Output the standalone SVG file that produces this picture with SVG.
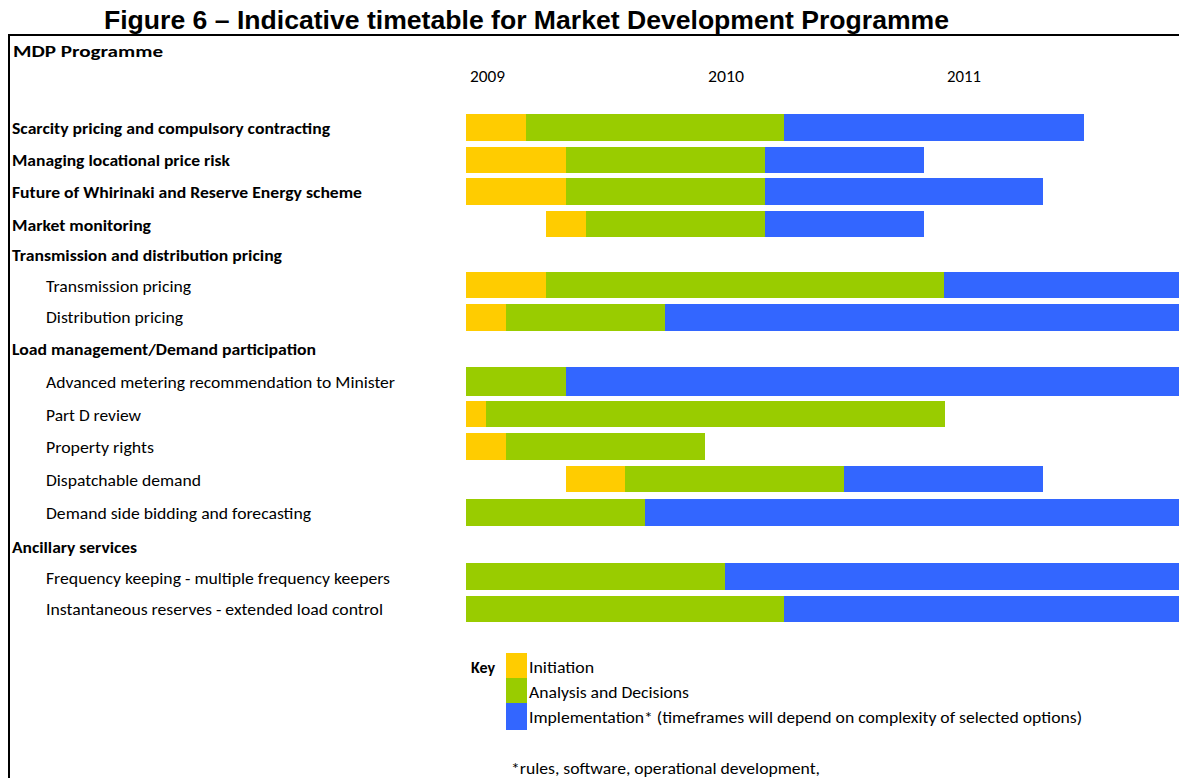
<svg xmlns="http://www.w3.org/2000/svg" width="1179" height="778" viewBox="0 0 1179 778">
  <style>
    .ini { fill: #FFCC00; }
    .ana { fill: #99CC00; }
    .imp { fill: #3366FF; }
    .title { font-family: "Liberation Sans", Arial, sans-serif; font-weight: bold; font-size: 25px; fill: #000; }
    .hd { font-family: Carlito, Calibri, Lato, "Liberation Sans", sans-serif; font-weight: bold; font-size: 16px; fill: #000; }
    .it { font-family: Carlito, Calibri, Lato, "Liberation Sans", sans-serif; font-size: 16px; fill: #000; }
    .yr { font-family: Carlito, Calibri, Lato, "Liberation Sans", sans-serif; font-size: 16px; fill: #000; }
    .frame { fill: none; stroke: #000; stroke-width: 2; }
  </style>

  <!-- heading -->
  <text class="title" x="104" y="29" textLength="845" lengthAdjust="spacingAndGlyphs">Figure 6 – Indicative timetable for Market Development Programme</text>

  <!-- chart frame (top and left edges) -->
  <path class="frame" d="M9,778 V35 H1179"/>

  <g id="header">
    <text class="hd" x="13" y="57" font-size="18" textLength="150" lengthAdjust="spacingAndGlyphs">MDP Programme</text>
    <text class="yr" x="470" y="82" textLength="35" lengthAdjust="spacingAndGlyphs">2009</text>
    <text class="yr" x="708" y="82" textLength="36" lengthAdjust="spacingAndGlyphs">2010</text>
    <text class="yr" x="947" y="82" textLength="34" lengthAdjust="spacingAndGlyphs">2011</text>
  </g>

  <g id="scarcity">
    <text class="hd" x="12" y="134" textLength="318" lengthAdjust="spacingAndGlyphs">Scarcity pricing and compulsory contracting</text>
    <rect class="ini" x="466" y="114" width="60" height="27"/>
    <rect class="ana" x="526" y="114" width="258" height="27"/>
    <rect class="imp" x="784" y="114" width="300" height="27"/>
  </g>

  <g id="locational-risk">
    <text class="hd" x="12" y="166" textLength="218" lengthAdjust="spacingAndGlyphs">Managing locational price risk</text>
    <rect class="ini" x="466" y="147" width="100" height="26"/>
    <rect class="ana" x="566" y="147" width="199" height="26"/>
    <rect class="imp" x="765" y="147" width="159" height="26"/>
  </g>

  <g id="whirinaki">
    <text class="hd" x="12" y="198" textLength="350" lengthAdjust="spacingAndGlyphs">Future of Whirinaki and Reserve Energy scheme</text>
    <rect class="ini" x="466" y="178" width="100" height="27"/>
    <rect class="ana" x="566" y="178" width="199" height="27"/>
    <rect class="imp" x="765" y="178" width="278" height="27"/>
  </g>

  <g id="market-monitoring">
    <text class="hd" x="12" y="231" textLength="139" lengthAdjust="spacingAndGlyphs">Market monitoring</text>
    <rect class="ini" x="546" y="211" width="40" height="26"/>
    <rect class="ana" x="586" y="211" width="179" height="26"/>
    <rect class="imp" x="765" y="211" width="159" height="26"/>
  </g>

  <g id="tx-dist-pricing">
    <text class="hd" x="12" y="261" textLength="270" lengthAdjust="spacingAndGlyphs">Transmission and distribution pricing</text>
  </g>

  <g id="transmission-pricing">
    <text class="it" x="46" y="292" textLength="145" lengthAdjust="spacingAndGlyphs">Transmission pricing</text>
    <rect class="ini" x="466" y="272" width="80" height="26"/>
    <rect class="ana" x="546" y="272" width="398" height="26"/>
    <rect class="imp" x="944" y="272" width="235" height="26"/>
  </g>

  <g id="distribution-pricing">
    <text class="it" x="46" y="323" textLength="137" lengthAdjust="spacingAndGlyphs">Distribution pricing</text>
    <rect class="ini" x="466" y="304" width="40" height="27"/>
    <rect class="ana" x="506" y="304" width="159" height="27"/>
    <rect class="imp" x="665" y="304" width="514" height="27"/>
  </g>

  <g id="load-management">
    <text class="hd" x="12" y="355" textLength="304" lengthAdjust="spacingAndGlyphs">Load management/Demand participation</text>
  </g>

  <g id="advanced-metering">
    <text class="it" x="46" y="388" textLength="349" lengthAdjust="spacingAndGlyphs">Advanced metering recommendation to Minister</text>
    <rect class="ana" x="466" y="367" width="100" height="29"/>
    <rect class="imp" x="566" y="367" width="613" height="29"/>
  </g>

  <g id="part-d">
    <text class="it" x="46" y="421" textLength="95" lengthAdjust="spacingAndGlyphs">Part D review</text>
    <rect class="ini" x="466" y="401" width="20" height="26"/>
    <rect class="ana" x="486" y="401" width="459" height="26"/>
  </g>

  <g id="property-rights">
    <text class="it" x="46" y="453" textLength="108" lengthAdjust="spacingAndGlyphs">Property rights</text>
    <rect class="ini" x="466" y="433" width="40" height="27"/>
    <rect class="ana" x="506" y="433" width="199" height="27"/>
  </g>

  <g id="dispatchable-demand">
    <text class="it" x="46" y="486" textLength="155" lengthAdjust="spacingAndGlyphs">Dispatchable demand</text>
    <rect class="ini" x="566" y="466" width="59" height="26"/>
    <rect class="ana" x="625" y="466" width="219" height="26"/>
    <rect class="imp" x="844" y="466" width="199" height="26"/>
  </g>

  <g id="demand-side-bidding">
    <text class="it" x="46" y="519" textLength="265" lengthAdjust="spacingAndGlyphs">Demand side bidding and forecasting</text>
    <rect class="ana" x="466" y="499" width="179" height="27"/>
    <rect class="imp" x="645" y="499" width="534" height="27"/>
  </g>

  <g id="ancillary-services">
    <text class="hd" x="12" y="553" textLength="125" lengthAdjust="spacingAndGlyphs">Ancillary services</text>
  </g>

  <g id="frequency-keeping">
    <text class="it" x="46" y="584" textLength="344" lengthAdjust="spacingAndGlyphs">Frequency keeping - multiple frequency keepers</text>
    <rect class="ana" x="466" y="563" width="259" height="27"/>
    <rect class="imp" x="725" y="563" width="454" height="27"/>
  </g>

  <g id="instantaneous-reserves">
    <text class="it" x="46" y="615" textLength="337" lengthAdjust="spacingAndGlyphs">Instantaneous reserves - extended load control</text>
    <rect class="ana" x="466" y="596" width="318" height="26"/>
    <rect class="imp" x="784" y="596" width="395" height="26"/>
  </g>

  <g id="key">
    <text class="hd" x="471" y="673" textLength="24" lengthAdjust="spacingAndGlyphs">Key</text>
    <rect class="ini" x="506" y="653" width="21" height="25"/>
    <rect class="ana" x="506" y="678" width="21" height="25"/>
    <rect class="imp" x="506" y="703" width="21" height="27"/>
    <text class="it" x="529" y="673" textLength="65" lengthAdjust="spacingAndGlyphs">Initiation</text>
    <text class="it" x="529" y="698" textLength="160" lengthAdjust="spacingAndGlyphs">Analysis and Decisions</text>
    <text class="it" x="529" y="723" textLength="553" lengthAdjust="spacingAndGlyphs">Implementation* (timeframes will depend on complexity of selected options)</text>
    <text class="it" x="511" y="774" textLength="309" lengthAdjust="spacingAndGlyphs">*rules, software, operational development,</text>
  </g>
</svg>
